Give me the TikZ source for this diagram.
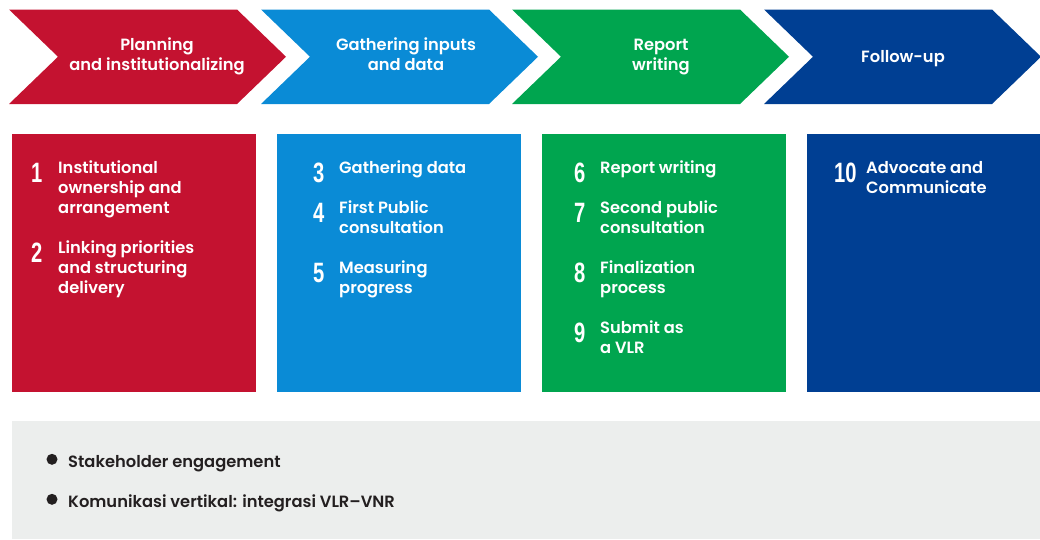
\documentclass[tikz,border=0pt]{standalone}
\usepackage{fontspec}
\usepackage{graphicx}
\setmainfont{Poppins}[UprightFont={* SemiBold}]
\newfontfamily\numfont{Liberation Sans}
\definecolor{cred}{HTML}{C41230}
\definecolor{cblue}{HTML}{0A8BD6}
\definecolor{cgreen}{HTML}{00A54F}
\definecolor{cnavy}{HTML}{003F93}
\definecolor{cgray}{HTML}{ECEEED}
\definecolor{ctext}{HTML}{231F20}
\tikzset{
  chevtext/.style={anchor=base, inner sep=0, text=white, font=\fontsize{16.3}{20}\selectfont},
  itemtext/.style={anchor=base west, inner sep=0, text=white, font=\fontsize{16.3}{20}\selectfont},
  numtext/.style={anchor=base west, inner sep=0, text=white, font=\numfont\bfseries\fontsize{28}{28}\selectfont},
  bultext/.style={anchor=base west, inner sep=0, text=ctext, font=\fontsize{16.3}{20}\selectfont},
}
\newcommand{\chev}[2]{%
  \fill[#2] (#1,9.5) -- ++(228,0) -- ++(49,47.25) -- ++(-49,47.25) -- ++(-228,0) -- ++(49,-47.25) -- cycle;}
\newcommand{\lines}[2]{\parbox[t]{#1pt}{\raggedright #2}}
\newcommand{\clines}[2]{\parbox[t]{#1pt}{\centering #2}}
\newcommand{\num}[1]{\scalebox{0.72}[1]{#1}}
\begin{document}
\begin{tikzpicture}[x=1pt,y=-1pt]
\useasboundingbox (0,0) rectangle (1040,539);
% chevrons
\chev{9}{cred}
\chev{261}{cblue}
\chev{512}{cgreen}
\chev{764}{cnavy}
\node[chevtext] (c1) at (157,50) {\clines{230}{Planning\\and institutionalizing}};
\node[chevtext] (c2) at (406,50) {\clines{230}{Gathering inputs\\and data}};
\node[chevtext] (c3) at (661,50) {\clines{230}{Report\\writing}};
\node[chevtext] (c4) at (903,62) {Follow-up};
% boxes
\fill[cred] (12,134) rectangle (256,392);
\fill[cblue] (277,134) rectangle (521,392);
\fill[cgreen] (542,134) rectangle (786,392);
\fill[cnavy] (807,134) rectangle (1040,392);
% box 1
\node[numtext] (n1) at (31,182.5) {\num{1}};
\node[itemtext] (t1) at (58,173) {\lines{195}{Institutional\\ownership and\\arrangement}};
\node[numtext] (n2) at (31,262.5) {\num{2}};
\node[itemtext] (t2) at (58,253) {\lines{195}{Linking priorities\\and structuring\\delivery}};
% box 2
\node[numtext] (n3) at (313,182.5) {\num{3}};
\node[itemtext] (t3) at (339,173) {\lines{180}{Gathering data}};
\node[numtext] (n4) at (313,222.5) {\num{4}};
\node[itemtext] (t4) at (339,213) {\lines{180}{First Public\\consultation}};
\node[numtext] (n5) at (313,282.5) {\num{5}};
\node[itemtext] (t5) at (339,273) {\lines{180}{Measuring\\progress}};
% box 3
\node[numtext] (n6) at (574,182.5) {\num{6}};
\node[itemtext] (t6) at (600,173) {\lines{180}{Report writing}};
\node[numtext] (n7) at (574,222.5) {\num{7}};
\node[itemtext] (t7) at (600,213) {\lines{180}{Second public\\consultation}};
\node[numtext] (n8) at (574,282.5) {\num{8}};
\node[itemtext] (t8) at (600,273) {\lines{180}{Finalization\\process}};
\node[numtext] (n9) at (574,342.5) {\num{9}};
\node[itemtext] (t9) at (600,333) {\lines{180}{Submit as\\a VLR}};
% box 4
\node[numtext] (n10) at (834,182.5) {\num{10}};
\node[itemtext] (t10) at (866,173) {\lines{170}{Advocate and\\Communicate}};
% gray box
\fill[cgray] (12,421) rectangle (1040,539);
\fill[ctext] (52,459.3) circle (5.5);
\fill[ctext] (52,499.3) circle (5.5);
\node[bultext] (b1) at (68,467) {Stakeholder engagement};
\node[bultext] (b2) at (68,507) {Komunikasi vertikal: integrasi VLR–VNR};
\end{tikzpicture}
\end{document}
